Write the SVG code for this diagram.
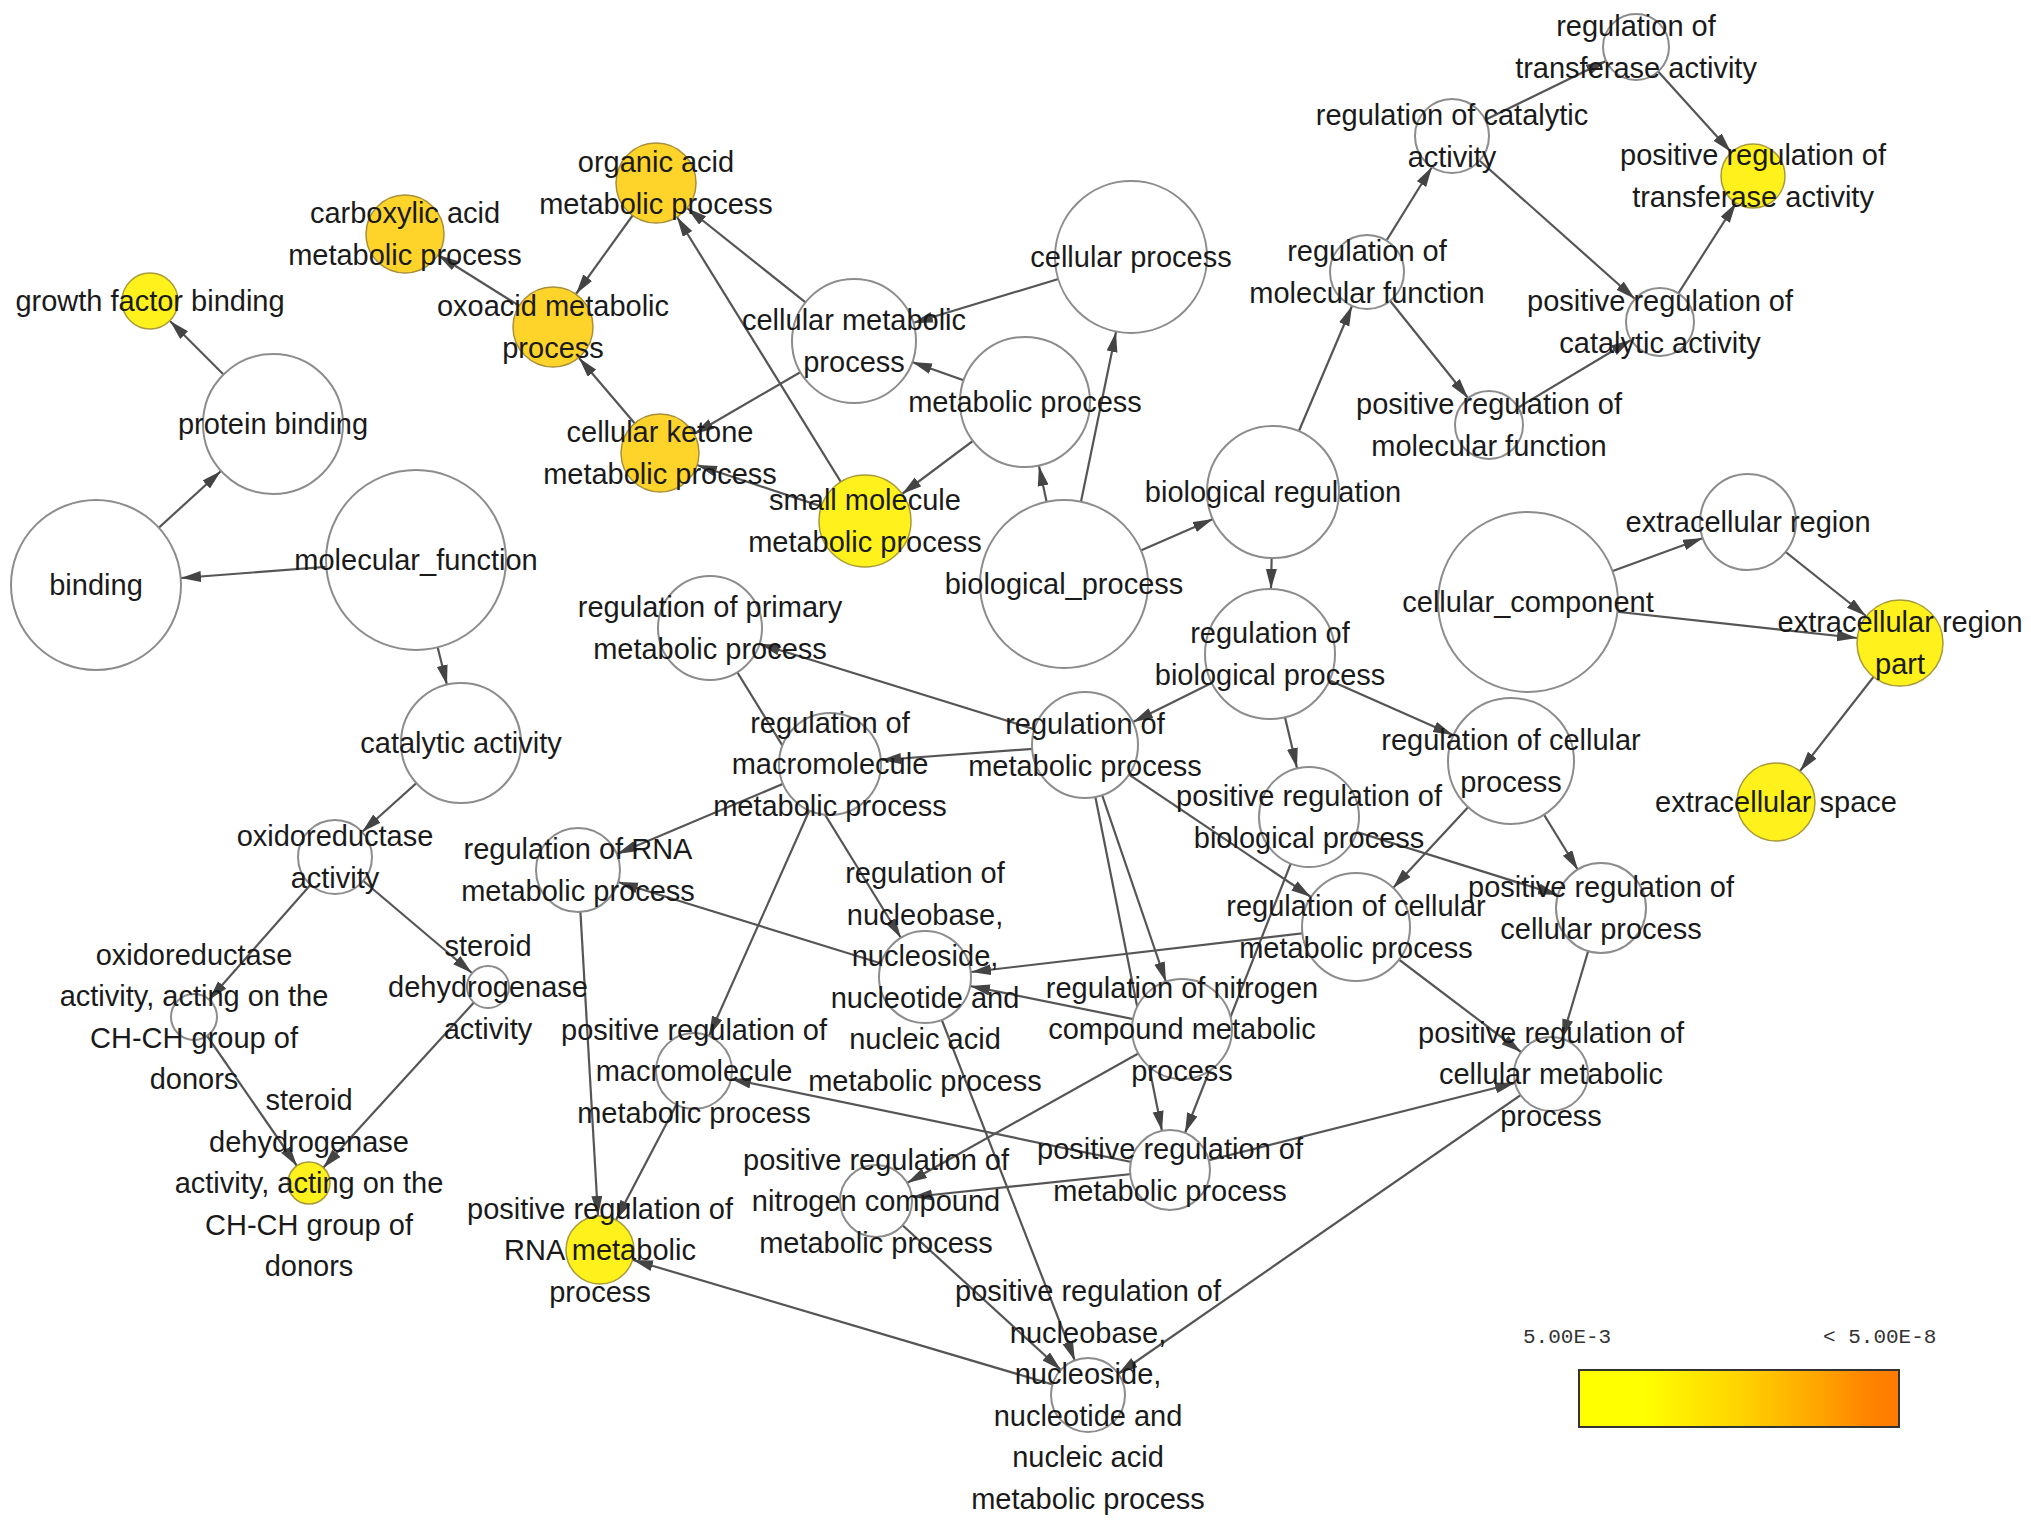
<svg xmlns="http://www.w3.org/2000/svg" width="2031" height="1524" viewBox="0 0 2031 1524">
<defs>
<marker id="arr" markerUnits="userSpaceOnUse" markerWidth="22" markerHeight="12" refX="20" refY="5.5" orient="auto"><path d="M0,0 L20,5.5 L0,11 Z" fill="#444"/></marker>
<linearGradient id="leg" x1="0" y1="0" x2="1" y2="0">
<stop offset="0" stop-color="#FFFF00"/><stop offset="0.2" stop-color="#FFFF00"/><stop offset="0.5" stop-color="#FFD400"/><stop offset="0.75" stop-color="#FFA500"/><stop offset="0.9" stop-color="#FF8400"/><stop offset="1" stop-color="#FF7A00"/>
</linearGradient>
</defs>
<style>
.e{stroke:#555;stroke-width:2.2;fill:none;marker-end:url(#arr)}
.n{fill:#fff;stroke:#8c8c8c;stroke-width:2}
.y{fill:#FFF21C;stroke:#a89a3a;stroke-width:1.5}
.o{fill:#FFD42A;stroke:#a8903a;stroke-width:1.5}
text{font-family:"Liberation Sans",Arial,sans-serif;font-size:29px;fill:#1a1a1a;text-anchor:middle}
.lg{font-family:"Liberation Mono","Courier New",monospace;font-size:21px;fill:#333;text-anchor:start}
</style>
<rect width="2031" height="1524" fill="#fff"/>
<g id="edges">
<line class="e" x1="273" y1="424" x2="170" y2="321"/>
<line class="e" x1="96" y1="585" x2="221" y2="471"/>
<line class="e" x1="416" y1="560" x2="181" y2="578"/>
<line class="e" x1="416" y1="560" x2="447" y2="685"/>
<line class="e" x1="461" y1="743" x2="362" y2="832"/>
<line class="e" x1="335" y1="857" x2="209" y2="1000"/>
<line class="e" x1="335" y1="857" x2="472" y2="973"/>
<line class="e" x1="194" y1="1017" x2="297" y2="1166"/>
<line class="e" x1="488" y1="987" x2="323" y2="1168"/>
<line class="e" x1="656" y1="183" x2="576" y2="294"/>
<line class="e" x1="553" y1="327" x2="438" y2="255"/>
<line class="e" x1="660" y1="453" x2="579" y2="358"/>
<line class="e" x1="854" y1="341" x2="687" y2="208"/>
<line class="e" x1="865" y1="521" x2="677" y2="217"/>
<line class="e" x1="854" y1="341" x2="694" y2="434"/>
<line class="e" x1="865" y1="521" x2="697" y2="465"/>
<line class="e" x1="1131" y1="257" x2="913" y2="323"/>
<line class="e" x1="1025" y1="402" x2="912" y2="362"/>
<line class="e" x1="1025" y1="402" x2="902" y2="494"/>
<line class="e" x1="1064" y1="584" x2="1039" y2="466"/>
<line class="e" x1="1064" y1="584" x2="1116" y2="332"/>
<line class="e" x1="1064" y1="584" x2="1213" y2="519"/>
<line class="e" x1="1273" y1="492" x2="1352" y2="306"/>
<line class="e" x1="1273" y1="492" x2="1271" y2="589"/>
<line class="e" x1="1367" y1="272" x2="1432" y2="167"/>
<line class="e" x1="1367" y1="272" x2="1468" y2="398"/>
<line class="e" x1="1452" y1="136" x2="1606" y2="61"/>
<line class="e" x1="1452" y1="136" x2="1635" y2="299"/>
<line class="e" x1="1636" y1="47" x2="1731" y2="152"/>
<line class="e" x1="1660" y1="322" x2="1736" y2="203"/>
<line class="e" x1="1489" y1="425" x2="1631" y2="340"/>
<line class="e" x1="1528" y1="602" x2="1703" y2="538"/>
<line class="e" x1="1528" y1="602" x2="1857" y2="638"/>
<line class="e" x1="1748" y1="522" x2="1866" y2="616"/>
<line class="e" x1="1900" y1="643" x2="1800" y2="771"/>
<line class="e" x1="1270" y1="654" x2="1133" y2="722"/>
<line class="e" x1="1270" y1="654" x2="1297" y2="768"/>
<line class="e" x1="1270" y1="654" x2="1453" y2="735"/>
<line class="e" x1="1085" y1="745" x2="760" y2="644"/>
<line class="e" x1="1085" y1="745" x2="881" y2="760"/>
<line class="e" x1="710" y1="628" x2="901" y2="938"/>
<line class="e" x1="830" y1="764" x2="617" y2="854"/>
<line class="e" x1="830" y1="764" x2="709" y2="1036"/>
<line class="e" x1="925" y1="977" x2="618" y2="882"/>
<line class="e" x1="578" y1="870" x2="598" y2="1216"/>
<line class="e" x1="694" y1="1071" x2="616" y2="1220"/>
<line class="e" x1="1088" y1="1395" x2="633" y2="1260"/>
<line class="e" x1="925" y1="977" x2="1075" y2="1361"/>
<line class="e" x1="876" y1="1201" x2="1061" y2="1370"/>
<line class="e" x1="1551" y1="1074" x2="1118" y2="1374"/>
<line class="e" x1="1085" y1="745" x2="1166" y2="982"/>
<line class="e" x1="1085" y1="745" x2="1162" y2="1131"/>
<line class="e" x1="1309" y1="817" x2="1185" y2="1133"/>
<line class="e" x1="1182" y1="1029" x2="907" y2="1183"/>
<line class="e" x1="1182" y1="1029" x2="970" y2="986"/>
<line class="e" x1="1085" y1="745" x2="1311" y2="897"/>
<line class="e" x1="1511" y1="761" x2="1393" y2="888"/>
<line class="e" x1="1511" y1="761" x2="1578" y2="870"/>
<line class="e" x1="1309" y1="817" x2="1558" y2="895"/>
<line class="e" x1="1601" y1="908" x2="1562" y2="1039"/>
<line class="e" x1="1356" y1="927" x2="1521" y2="1052"/>
<line class="e" x1="1170" y1="1170" x2="1515" y2="1083"/>
<line class="e" x1="1170" y1="1170" x2="912" y2="1197"/>
<line class="e" x1="1170" y1="1170" x2="731" y2="1079"/>
<line class="e" x1="1356" y1="927" x2="971" y2="972"/>
</g>
<g id="n-growth-factor-binding" transform="translate(150,301)"><circle class="y" r="28"/><text y="10">growth factor binding</text></g>
<g id="n-protein-binding" transform="translate(273,424)"><circle class="n" r="70"/><text y="10">protein binding</text></g>
<g id="n-binding" transform="translate(96,585)"><circle class="n" r="85"/><text y="10">binding</text></g>
<g id="n-molecular-function" transform="translate(416,560)"><circle class="n" r="90"/><text y="10">molecular_function</text></g>
<g id="n-catalytic-activity" transform="translate(461,743)"><circle class="n" r="60"/><text y="10">catalytic activity</text></g>
<g id="n-oxidoreductase-activity" transform="translate(335,857)"><circle class="n" r="37"/><text><tspan x="0" y="-10.75">oxidoreductase</tspan><tspan x="0" y="30.75">activity</tspan></text></g>
<g id="n-oxidoreductase-chch" transform="translate(194,1017)"><circle class="n" r="23"/><text><tspan x="0" y="-52.25">oxidoreductase</tspan><tspan x="0" y="-10.75">activity, acting on the</tspan><tspan x="0" y="30.75">CH-CH group of</tspan><tspan x="0" y="72.25">donors</tspan></text></g>
<g id="n-steroid-dehydrogenase" transform="translate(488,987)"><circle class="n" r="21"/><text><tspan x="0" y="-31.5">steroid</tspan><tspan x="0" y="10">dehydrogenase</tspan><tspan x="0" y="51.5">activity</tspan></text></g>
<g id="n-steroid-dehydrogenase-chch" transform="translate(309,1183)"><circle class="y" r="21"/><text><tspan x="0" y="-73">steroid</tspan><tspan x="0" y="-31.5">dehydrogenase</tspan><tspan x="0" y="10">activity, acting on the</tspan><tspan x="0" y="51.5">CH-CH group of</tspan><tspan x="0" y="93">donors</tspan></text></g>
<g id="n-carboxylic-acid" transform="translate(405,234)"><circle class="o" r="39"/><text><tspan x="0" y="-10.75">carboxylic acid</tspan><tspan x="0" y="30.75">metabolic process</tspan></text></g>
<g id="n-organic-acid" transform="translate(656,183)"><circle class="o" r="40"/><text><tspan x="0" y="-10.75">organic acid</tspan><tspan x="0" y="30.75">metabolic process</tspan></text></g>
<g id="n-oxoacid" transform="translate(553,327)"><circle class="o" r="40"/><text><tspan x="0" y="-10.75">oxoacid metabolic</tspan><tspan x="0" y="30.75">process</tspan></text></g>
<g id="n-cellular-ketone" transform="translate(660,453)"><circle class="o" r="39"/><text><tspan x="0" y="-10.75">cellular ketone</tspan><tspan x="0" y="30.75">metabolic process</tspan></text></g>
<g id="n-small-molecule" transform="translate(865,521)"><circle class="y" r="46"/><text><tspan x="0" y="-10.75">small molecule</tspan><tspan x="0" y="30.75">metabolic process</tspan></text></g>
<g id="n-cellular-metabolic-process" transform="translate(854,341)"><circle class="n" r="62"/><text><tspan x="0" y="-10.75">cellular metabolic</tspan><tspan x="0" y="30.75">process</tspan></text></g>
<g id="n-cellular-process" transform="translate(1131,257)"><circle class="n" r="76"/><text y="10">cellular process</text></g>
<g id="n-metabolic-process" transform="translate(1025,402)"><circle class="n" r="65"/><text y="10">metabolic process</text></g>
<g id="n-biological-process" transform="translate(1064,584)"><circle class="n" r="84"/><text y="10">biological_process</text></g>
<g id="n-biological-regulation" transform="translate(1273,492)"><circle class="n" r="66"/><text y="10">biological regulation</text></g>
<g id="n-reg-molecular-function" transform="translate(1367,272)"><circle class="n" r="37"/><text><tspan x="0" y="-10.75">regulation of</tspan><tspan x="0" y="30.75">molecular function</tspan></text></g>
<g id="n-reg-catalytic-activity" transform="translate(1452,136)"><circle class="n" r="37"/><text><tspan x="0" y="-10.75">regulation of catalytic</tspan><tspan x="0" y="30.75">activity</tspan></text></g>
<g id="n-reg-transferase-activity" transform="translate(1636,47)"><circle class="n" r="33"/><text><tspan x="0" y="-10.75">regulation of</tspan><tspan x="0" y="30.75">transferase activity</tspan></text></g>
<g id="n-pos-reg-transferase-activity" transform="translate(1753,176)"><circle class="y" r="32"/><text><tspan x="0" y="-10.75">positive regulation of</tspan><tspan x="0" y="30.75">transferase activity</tspan></text></g>
<g id="n-pos-reg-catalytic-activity" transform="translate(1660,322)"><circle class="n" r="34"/><text><tspan x="0" y="-10.75">positive regulation of</tspan><tspan x="0" y="30.75">catalytic activity</tspan></text></g>
<g id="n-pos-reg-molecular-function" transform="translate(1489,425)"><circle class="n" r="34"/><text><tspan x="0" y="-10.75">positive regulation of</tspan><tspan x="0" y="30.75">molecular function</tspan></text></g>
<g id="n-cellular-component" transform="translate(1528,602)"><circle class="n" r="90"/><text y="10">cellular_component</text></g>
<g id="n-extracellular-region" transform="translate(1748,522)"><circle class="n" r="48"/><text y="10">extracellular region</text></g>
<g id="n-extracellular-region-part" transform="translate(1900,643)"><circle class="y" r="43"/><text><tspan x="0" y="-10.75">extracellular region</tspan><tspan x="0" y="30.75">part</tspan></text></g>
<g id="n-extracellular-space" transform="translate(1776,802)"><circle class="y" r="39"/><text y="10">extracellular space</text></g>
<g id="n-reg-biological-process" transform="translate(1270,654)"><circle class="n" r="65"/><text><tspan x="0" y="-10.75">regulation of</tspan><tspan x="0" y="30.75">biological process</tspan></text></g>
<g id="n-reg-metabolic-process" transform="translate(1085,745)"><circle class="n" r="53"/><text><tspan x="0" y="-10.75">regulation of</tspan><tspan x="0" y="30.75">metabolic process</tspan></text></g>
<g id="n-reg-primary-metabolic" transform="translate(710,628)"><circle class="n" r="52"/><text><tspan x="0" y="-10.75">regulation of primary</tspan><tspan x="0" y="30.75">metabolic process</tspan></text></g>
<g id="n-reg-macromolecule" transform="translate(830,764)"><circle class="n" r="51"/><text><tspan x="0" y="-31.5">regulation of</tspan><tspan x="0" y="10">macromolecule</tspan><tspan x="0" y="51.5">metabolic process</tspan></text></g>
<g id="n-reg-rna" transform="translate(578,870)"><circle class="n" r="42"/><text><tspan x="0" y="-10.75">regulation of RNA</tspan><tspan x="0" y="30.75">metabolic process</tspan></text></g>
<g id="n-pos-reg-rna" transform="translate(600,1250)"><circle class="y" r="34"/><text><tspan x="0" y="-31.5">positive regulation of</tspan><tspan x="0" y="10">RNA metabolic</tspan><tspan x="0" y="51.5">process</tspan></text></g>
<g id="n-pos-reg-macromolecule" transform="translate(694,1071)"><circle class="n" r="38"/><text><tspan x="0" y="-31.5">positive regulation of</tspan><tspan x="0" y="10">macromolecule</tspan><tspan x="0" y="51.5">metabolic process</tspan></text></g>
<g id="n-reg-nucleobase" transform="translate(925,977)"><circle class="n" r="46"/><text><tspan x="0" y="-93.75">regulation of</tspan><tspan x="0" y="-52.25">nucleobase,</tspan><tspan x="0" y="-10.75">nucleoside,</tspan><tspan x="0" y="30.75">nucleotide and</tspan><tspan x="0" y="72.25">nucleic acid</tspan><tspan x="0" y="113.75">metabolic process</tspan></text></g>
<g id="n-reg-nitrogen" transform="translate(1182,1029)"><circle class="n" r="50"/><text><tspan x="0" y="-31.5">regulation of nitrogen</tspan><tspan x="0" y="10">compound metabolic</tspan><tspan x="0" y="51.5">process</tspan></text></g>
<g id="n-pos-reg-nitrogen" transform="translate(876,1201)"><circle class="n" r="36"/><text><tspan x="0" y="-31.5">positive regulation of</tspan><tspan x="0" y="10">nitrogen compound</tspan><tspan x="0" y="51.5">metabolic process</tspan></text></g>
<g id="n-pos-reg-metabolic" transform="translate(1170,1170)"><circle class="n" r="40"/><text><tspan x="0" y="-10.75">positive regulation of</tspan><tspan x="0" y="30.75">metabolic process</tspan></text></g>
<g id="n-pos-reg-nucleobase" transform="translate(1088,1395)"><circle class="n" r="37"/><text><tspan x="0" y="-93.75">positive regulation of</tspan><tspan x="0" y="-52.25">nucleobase,</tspan><tspan x="0" y="-10.75">nucleoside,</tspan><tspan x="0" y="30.75">nucleotide and</tspan><tspan x="0" y="72.25">nucleic acid</tspan><tspan x="0" y="113.75">metabolic process</tspan></text></g>
<g id="n-pos-reg-biological" transform="translate(1309,817)"><circle class="n" r="50"/><text><tspan x="0" y="-10.75">positive regulation of</tspan><tspan x="0" y="30.75">biological process</tspan></text></g>
<g id="n-reg-cellular-process" transform="translate(1511,761)"><circle class="n" r="63"/><text><tspan x="0" y="-10.75">regulation of cellular</tspan><tspan x="0" y="30.75">process</tspan></text></g>
<g id="n-reg-cellular-metabolic" transform="translate(1356,927)"><circle class="n" r="54"/><text><tspan x="0" y="-10.75">regulation of cellular</tspan><tspan x="0" y="30.75">metabolic process</tspan></text></g>
<g id="n-pos-reg-cellular-process" transform="translate(1601,908)"><circle class="n" r="45"/><text><tspan x="0" y="-10.75">positive regulation of</tspan><tspan x="0" y="30.75">cellular process</tspan></text></g>
<g id="n-pos-reg-cellular-metabolic" transform="translate(1551,1074)"><circle class="n" r="37"/><text><tspan x="0" y="-31.5">positive regulation of</tspan><tspan x="0" y="10">cellular metabolic</tspan><tspan x="0" y="51.5">process</tspan></text></g>
<g id="legend">
<text class="lg" x="1523" y="1343">5.00E-3</text>
<text class="lg" x="1823" y="1343">&lt; 5.00E-8</text>
<rect x="1579" y="1370" width="320" height="57" fill="url(#leg)" stroke="#333" stroke-width="2"/>
</g>
</svg>
